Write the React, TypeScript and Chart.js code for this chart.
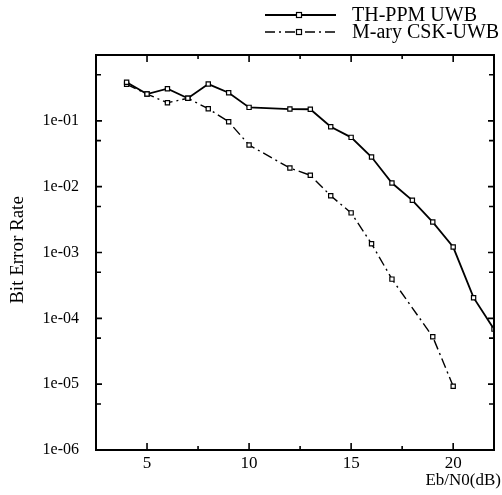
import React, { useEffect, useRef } from "react";
import { Chart, registerables } from "chart.js";

Chart.register(...registerables);

// Eb/N0 (dB) positions and bit error rates
const ebnoTH = [4, 5, 6, 7, 8, 9, 10, 12, 13, 14, 15, 16, 17, 18, 19, 20, 21, 22];
const berTH = [0.385, 0.255, 0.308, 0.22, 0.362, 0.267, 0.16, 0.151, 0.15, 0.0813, 0.0561, 0.0282, 0.01135, 0.0062, 0.0029, 0.00121, 2.06e-4, 6.85e-5];

const ebnoCSK = [4, 5, 6, 7, 8, 9, 10, 12, 13, 14, 15, 16, 17, 19, 20];
const berCSK = [0.359, 0.255, 0.188, 0.22, 0.153, 0.0969, 0.0429, 0.0192, 0.0149, 0.00727, 0.004, 0.00136, 3.94e-4, 5.24e-5, 9.3e-6];

const seriesNames = ["TH-PPM UWB", "M-ary CSK-UWB"];

const xMajorTicks = [5, 10, 15, 20];
const xMinorTicks = [7.5, 12.5, 17.5];
const yMajorTicks = [1e-6, 1e-5, 1e-4, 1e-3, 1e-2, 1e-1];
const yMinorTicks = [5e-6, 5e-5, 5e-4, 5e-3, 5e-2, 5e-1];
const yTickLabels = ["1e-06", "1e-05", "1e-04", "1e-03", "1e-02", "1e-01"];

const xTitle = "Eb/N0(dB)";
const yTitle = "Bit Error Rate";

const FONT = "'Liberation Serif', 'Times New Roman', serif";

const framePlugin = {
  id: "frameTicks",
  afterDraw(chart: any) {
    const ctx = chart.ctx;
    const { left, right, top, bottom } = chart.chartArea;
    const xs = chart.scales.x;
    const ys = chart.scales.y;
    ctx.save();
    ctx.strokeStyle = "#000";
    ctx.lineWidth = 2;
    ctx.setLineDash([]);
    ctx.strokeRect(left, top, right - left, bottom - top);
    ctx.lineWidth = 1.6;
    const drawX = (v: number, len: number) => {
      const px = xs.getPixelForValue(v);
      ctx.beginPath();
      ctx.moveTo(px, bottom);
      ctx.lineTo(px, bottom - len);
      ctx.moveTo(px, top);
      ctx.lineTo(px, top + len);
      ctx.stroke();
    };
    const drawY = (v: number, len: number) => {
      const py = ys.getPixelForValue(v);
      ctx.beginPath();
      ctx.moveTo(left, py);
      ctx.lineTo(left + len, py);
      ctx.moveTo(right, py);
      ctx.lineTo(right - len, py);
      ctx.stroke();
    };
    xMajorTicks.forEach((v) => drawX(v, 7));
    xMinorTicks.forEach((v) => drawX(v, 4));
    yMajorTicks.forEach((v) => drawY(v, 6));
    yMinorTicks.forEach((v) => drawY(v, 5));

    // axis titles
    ctx.fillStyle = "#000";
    ctx.font = `17px ${FONT}`;
    ctx.textAlign = "right";
    ctx.textBaseline = "middle";
    ctx.fillText(xTitle, 501, 481);
    ctx.save();
    ctx.translate(18, 250);
    ctx.rotate(-Math.PI / 2);
    ctx.textAlign = "center";
    ctx.font = `19px ${FONT}`;
    ctx.fillText(yTitle, 0, 0);
    ctx.restore();

    // legend
    chart.data.datasets.forEach((ds: any, i: number) => {
      const y = 15 + 17 * i;
      ctx.strokeStyle = "#000";
      ctx.lineWidth = ds.borderWidth;
      ctx.setLineDash(ds.borderDash || []);
      ctx.beginPath();
      ctx.moveTo(265, y);
      ctx.lineTo(336, y);
      ctx.stroke();
      ctx.setLineDash([]);
      ctx.lineWidth = 1.2;
      ctx.fillStyle = "#fff";
      ctx.fillRect(296.5, y - 2.5, 5, 5);
      ctx.strokeRect(296.5, y - 2.5, 5, 5);
      ctx.fillStyle = "#000";
      ctx.font = `20px ${FONT}`;
      ctx.textAlign = "left";
      ctx.textBaseline = "middle";
      ctx.fillText(ds.label, 352, y + 1);
    });
    ctx.restore();
  },
};

export default function App() {
  const ref = useRef<HTMLCanvasElement | null>(null);
  useEffect(() => {
    document.body.style.margin = "0";
    const canvas = ref.current;
    if (!canvas) return;
    const chart = new Chart(canvas, {
      type: "line",
      data: {
        datasets: [
          {
            label: seriesNames[0],
            data: ebnoTH.map((x, i) => ({ x, y: berTH[i] })),
            borderColor: "#000",
            borderWidth: 1.8,
            pointStyle: "rect",
            pointRadius: 3,
            pointBorderWidth: 1.2,
            pointBackgroundColor: "#fff",
            pointBorderColor: "#000",
            tension: 0,
          },
          {
            label: seriesNames[1],
            data: ebnoCSK.map((x, i) => ({ x, y: berCSK[i] })),
            borderColor: "#000",
            borderWidth: 1.4,
            borderDash: [10, 4, 2, 4],
            pointStyle: "rect",
            pointRadius: 3,
            pointBorderWidth: 1.2,
            pointBackgroundColor: "#fff",
            pointBorderColor: "#000",
            tension: 0,
          },
        ],
      },
      options: {
        animation: false,
        responsive: false,
        maintainAspectRatio: false,
        layout: { padding: { top: 55, right: 8, left: 0, bottom: 0 } },
        plugins: { legend: { display: false }, tooltip: { enabled: false }, title: { display: false } },
        scales: {
          x: {
            type: "linear",
            min: 2.5,
            max: 22,
            grid: { display: false, drawTicks: false },
            border: { display: false },
            afterFit(scale: any) {
              scale.height = 45;
            },
            afterBuildTicks(scale: any) {
              scale.ticks = xMajorTicks.map((v) => ({ value: v }));
            },
            ticks: {
              autoSkip: false,
              maxRotation: 0,
              padding: 3,
              color: "#000",
              font: { family: FONT, size: 17 },
              callback: (v: any) => String(v),
            },
          },
          y: {
            type: "logarithmic",
            min: 1e-6,
            max: 1,
            grid: { display: false, drawTicks: false },
            border: { display: false },
            afterFit(scale: any) {
              scale.width = 96;
            },
            afterBuildTicks(scale: any) {
              scale.ticks = yMajorTicks.map((v) => ({ value: v }));
            },
            ticks: {
              autoSkip: false,
              padding: 17,
              color: "#000",
              font: { family: FONT, size: 16 },
              callback: (v: any) => {
                const idx = yMajorTicks.findIndex((t) => Math.abs(Math.log10(t) - Math.log10(v)) < 1e-6);
                return idx >= 0 ? yTickLabels[idx] : "";
              },
            },
          },
        },
      },
      plugins: [framePlugin],
    } as any);
    return () => chart.destroy();
  }, []);
  return (
    <div style={{ width: 502, height: 495, background: "#fff" }}>
      <canvas ref={ref} width={502} height={495} style={{ display: "block", width: 502, height: 495 }} />
    </div>
  );
}
